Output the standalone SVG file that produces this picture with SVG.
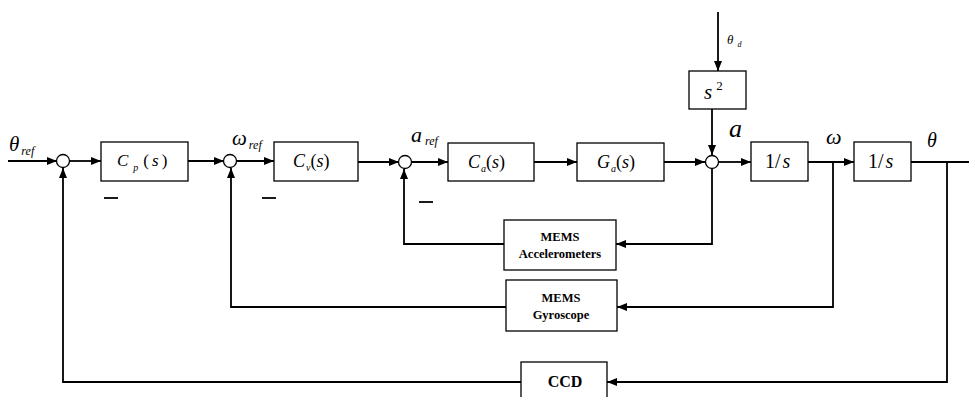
<svg xmlns="http://www.w3.org/2000/svg" width="969" height="397" viewBox="0 0 969 397">
<defs>
<marker id="ah" markerWidth="10" markerHeight="8" refX="10" refY="4" orient="auto" markerUnits="userSpaceOnUse">
<path d="M0,0 L10,4 L0,8 z" fill="#000"/>
</marker>
<style>
.blk{fill:#fff;stroke:#000;stroke-width:1.3}
.sum{fill:#fff;stroke:#000;stroke-width:1.3}
.ln{fill:none;stroke:#000;stroke-width:1.8}
.ar{fill:none;stroke:#000;stroke-width:1.8;marker-end:url(#ah)}
.neg{stroke:#000;stroke-width:1.8}
.m{font-family:"Liberation Serif",serif;font-style:italic;fill:#000}
.b{font-family:"Liberation Serif",serif;font-weight:bold;fill:#000;text-anchor:middle}
.r{font-family:"Liberation Serif",serif;fill:#000}
</style>
</defs>
<rect width="969" height="397" fill="#fff"/>
<g id="connectors">
<line class="ar" x1="8" y1="161" x2="57" y2="161"/>
<line class="ar" x1="69" y1="161" x2="101" y2="161"/>
<line class="ar" x1="188" y1="161" x2="224" y2="161"/>
<line class="ar" x1="236" y1="161" x2="274" y2="161"/>
<line class="ar" x1="358" y1="162" x2="399" y2="162"/>
<line class="ar" x1="411" y1="162" x2="448" y2="162"/>
<line class="ar" x1="534" y1="162" x2="577" y2="162"/>
<line class="ar" x1="664" y1="162" x2="705" y2="162"/>
<line class="ar" x1="719" y1="162" x2="751" y2="162"/>
<line class="ar" x1="808" y1="162" x2="854" y2="162"/>
<line class="ln" x1="911" y1="162" x2="969" y2="162"/>
<line class="ar" x1="718" y1="12" x2="718" y2="71"/>
<line class="ar" x1="712" y1="109" x2="712" y2="155"/>
<polyline class="ar" points="712,169 712,244 616,244"/>
<polyline class="ar" points="504,244 404,244 404,169"/>
<polyline class="ar" points="833,162 833,307 617,307"/>
<polyline class="ar" points="506,307 231,307 231,168"/>
<polyline class="ar" points="947,162 947,382 607,382"/>
<polyline class="ar" points="521,382 63,382 63,168"/>
</g>
<g id="sum1"><circle class="sum" cx="63" cy="161" r="6.5"/></g>
<g id="sum2"><circle class="sum" cx="230" cy="161" r="6.5"/></g>
<g id="sum3"><circle class="sum" cx="405" cy="162" r="6.5"/></g>
<g id="sum4"><circle class="sum" cx="712" cy="162" r="6.5"/></g>
<g id="labels">
<text class="m" x="9" y="151" font-size="21">θ<tspan font-size="12" dx="2" dy="4">ref</tspan></text>
<text class="m" x="232" y="145" font-size="21">ω<tspan font-size="12" dx="2" dy="4">ref</tspan></text>
<text class="m" x="411" y="142" font-size="22">a<tspan font-size="12" dx="3" dy="3">ref</tspan></text>
<text class="m" x="727" y="44" font-size="13">θ<tspan font-size="8" dx="4" dy="3">d</tspan></text>
<text class="m" x="729" y="137" font-size="26">a</text>
<text class="m" x="826" y="144" font-size="22">ω</text>
<text class="m" x="927" y="147" font-size="20">θ</text>
<line class="neg" x1="104" y1="198" x2="118" y2="198"/>
<line class="neg" x1="262" y1="198" x2="276" y2="198"/>
<line class="neg" x1="419" y1="202" x2="433" y2="202"/>
</g>
<g id="Cp"><rect class="blk" x="101" y="142" width="87" height="39"/>
<text class="m" x="117" y="166" font-size="17">C<tspan font-size="10" dx="5" dy="5">p</tspan><tspan dx="5" dy="-5" font-style="normal">(</tspan><tspan dx="3">s</tspan><tspan dx="3" font-style="normal">)</tspan></text></g>
<g id="Cv"><rect class="blk" x="274" y="142" width="84" height="39"/>
<text class="m" x="293" y="167" font-size="18">C<tspan font-size="10" dx="1" dy="4">v</tspan><tspan dy="-4" font-style="normal">(</tspan><tspan>s</tspan><tspan font-style="normal">)</tspan></text></g>
<g id="Ca"><rect class="blk" x="448" y="143" width="86" height="38"/>
<text class="m" x="468" y="168" font-size="18">C<tspan font-size="10" dx="1" dy="4">a</tspan><tspan dy="-4" font-style="normal">(</tspan><tspan>s</tspan><tspan font-style="normal">)</tspan></text></g>
<g id="Ga"><rect class="blk" x="577" y="143" width="87" height="38"/>
<text class="m" x="597" y="168" font-size="18">G<tspan font-size="10" dx="1" dy="4">a</tspan><tspan dy="-4" font-style="normal">(</tspan><tspan>s</tspan><tspan font-style="normal">)</tspan></text></g>
<g id="s2"><rect class="blk" x="689" y="71" width="57" height="38"/>
<text class="m" x="704" y="99" font-size="21">s<tspan font-size="13" font-style="normal" dx="4" dy="-9">2</tspan></text></g>
<g id="int1"><rect class="blk" x="751" y="142" width="57" height="39"/>
<text class="r" x="765" y="168" font-size="20">1/<tspan font-style="italic" dx="2">s</tspan></text></g>
<g id="int2"><rect class="blk" x="854" y="142" width="57" height="39"/>
<text class="r" x="868" y="168" font-size="20">1/<tspan font-style="italic" dx="2">s</tspan></text></g>
<g id="acc"><rect class="blk" x="504" y="220" width="112" height="50"/>
<text class="b" x="560" y="241" font-size="12.5">MEMS</text>
<text class="b" x="560" y="258" font-size="12.5">Accelerometers</text></g>
<g id="gyro"><rect class="blk" x="506" y="280" width="111" height="51"/>
<text class="b" x="561" y="302" font-size="12.5">MEMS</text>
<text class="b" x="561" y="319" font-size="12.5">Gyroscope</text></g>
<g id="ccd"><rect class="blk" x="521" y="362" width="86" height="40"/>
<text class="b" x="565" y="387" font-size="16">CCD</text></g>
</svg>
